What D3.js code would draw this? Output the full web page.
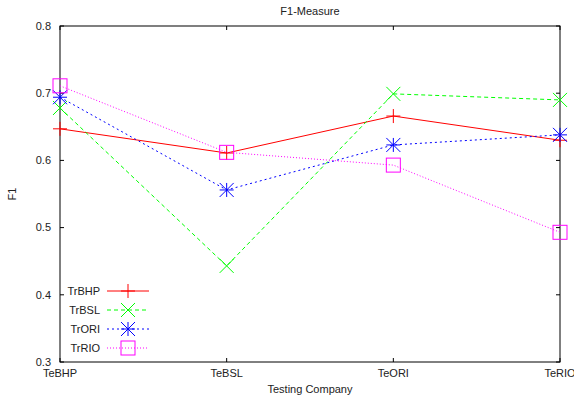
<!DOCTYPE html>
<html>
<head>
<meta charset="utf-8">
<script src="https://cdn.jsdelivr.net/npm/d3@7"></script>
<style>
  body { margin: 0; background: #fff; }
  text { font-family: "Liberation Sans", Arial, sans-serif; font-size: 11px; fill: #222; }
</style>
</head>
<body>
<svg id="chart" width="574" height="399"></svg>
<script>
// test companies along x
const companies = ["TeBHP", "TeBSL", "TeORI", "TeRIO"]
const yTicks = [0.3, 0.4, 0.5, 0.6, 0.7, 0.8]

// F1 per training company
const trBHP = [0.647, 0.611, 0.666, 0.630]
const trBSL = [0.678, 0.443, 0.699, 0.690]
const trORI = [0.694, 0.556, 0.623, 0.638]
const trRIO = [0.711, 0.612, 0.593, 0.493]

const seriesNames = ["TrBHP", "TrBSL", "TrORI", "TrRIO"]
const seriesValues = [trBHP, trBSL, trORI, trRIO]
const colors = ["#ff0000", "#00ff00", "#0000ff", "#ff00ff"]
const dashes = [null, "4,3", "2,3", "1,2"]
const markers = ["plus", "cross", "star", "square"]

const margin = { top: 26, right: 14, bottom: 37, left: 60 }
const W = 574, H = 399
const width = W - margin.left - margin.right
const height = H - margin.top - margin.bottom

const svg = d3.select("#chart")
const g = svg.append("g").attr("transform", `translate(${margin.left},${margin.top})`)

const x = d3.scalePoint().domain(companies).range([0, width])
const y = d3.scaleLinear().domain([0.3, 0.8]).range([height, 0])

// ticks (inward, mirrored)
const tl = 4
yTicks.forEach(t => {
  g.append("line").attr("x1", 0).attr("x2", tl).attr("y1", y(t)).attr("y2", y(t)).attr("stroke", "#000")
  g.append("line").attr("x1", width).attr("x2", width - tl).attr("y1", y(t)).attr("y2", y(t)).attr("stroke", "#000")
  g.append("text").attr("x", -9).attr("y", y(t)).attr("dy", "0.35em")
    .attr("text-anchor", "end").text(t.toFixed(1))
})
companies.forEach(c => {
  g.append("line").attr("x1", x(c)).attr("x2", x(c)).attr("y1", height).attr("y2", height - tl).attr("stroke", "#000")
  g.append("line").attr("x1", x(c)).attr("x2", x(c)).attr("y1", 0).attr("y2", tl).attr("stroke", "#000")
  g.append("text").attr("x", x(c)).attr("y", height + 15).attr("text-anchor", "middle").text(c)
})

g.append("rect").attr("width", width).attr("height", height)
  .attr("fill", "none").attr("stroke", "#000").attr("stroke-width", 1)

function drawMarker(sel, type, cx, cy, color) {
  const s = 7
  if (type === "plus") {
    sel.append("path").attr("d", `M${cx - s},${cy}H${cx + s}M${cx},${cy - s}V${cy + s}`)
      .attr("stroke", color).attr("fill", "none")
  } else if (type === "cross") {
    sel.append("path").attr("d", `M${cx - s},${cy - s}L${cx + s},${cy + s}M${cx - s},${cy + s}L${cx + s},${cy - s}`)
      .attr("stroke", color).attr("fill", "none")
  } else if (type === "star") {
    sel.append("path").attr("d", `M${cx - s},${cy}H${cx + s}M${cx},${cy - s}V${cy + s}` +
      `M${cx - s},${cy - s}L${cx + s},${cy + s}M${cx - s},${cy + s}L${cx + s},${cy - s}`)
      .attr("stroke", color).attr("fill", "none")
  } else {
    sel.append("rect").attr("x", cx - s).attr("y", cy - s).attr("width", 2 * s).attr("height", 2 * s)
      .attr("stroke", color).attr("fill", "none")
  }
}

const line = d3.line().x((d, i) => x(companies[i])).y(d => y(d))

seriesValues.forEach((vals, k) => {
  g.append("path").datum(vals).attr("d", line)
    .attr("fill", "none").attr("stroke", colors[k]).attr("stroke-width", 1)
    .attr("stroke-dasharray", dashes[k])
  vals.forEach((v, i) => drawMarker(g, markers[k], x(companies[i]), y(v), colors[k]))
})

// legend
seriesNames.forEach((name, k) => {
  const ly = 265 + k * 19
  g.append("text").attr("x", 40).attr("y", ly).attr("dy", "0.35em").attr("text-anchor", "end").text(name)
  g.append("line").attr("x1", 47).attr("x2", 89).attr("y1", ly).attr("y2", ly)
    .attr("stroke", colors[k]).attr("stroke-dasharray", dashes[k])
  drawMarker(g, markers[k], 68, ly, colors[k])
})

svg.append("text").attr("x", 310).attr("y", 15).attr("text-anchor", "middle").text("F1-Measure")
svg.append("text").attr("x", 310).attr("y", 393).attr("text-anchor", "middle").text("Testing Company")
svg.append("text").attr("transform", "translate(16,194) rotate(-90)").attr("text-anchor", "middle").text("F1")
</script>
</body>
</html>
